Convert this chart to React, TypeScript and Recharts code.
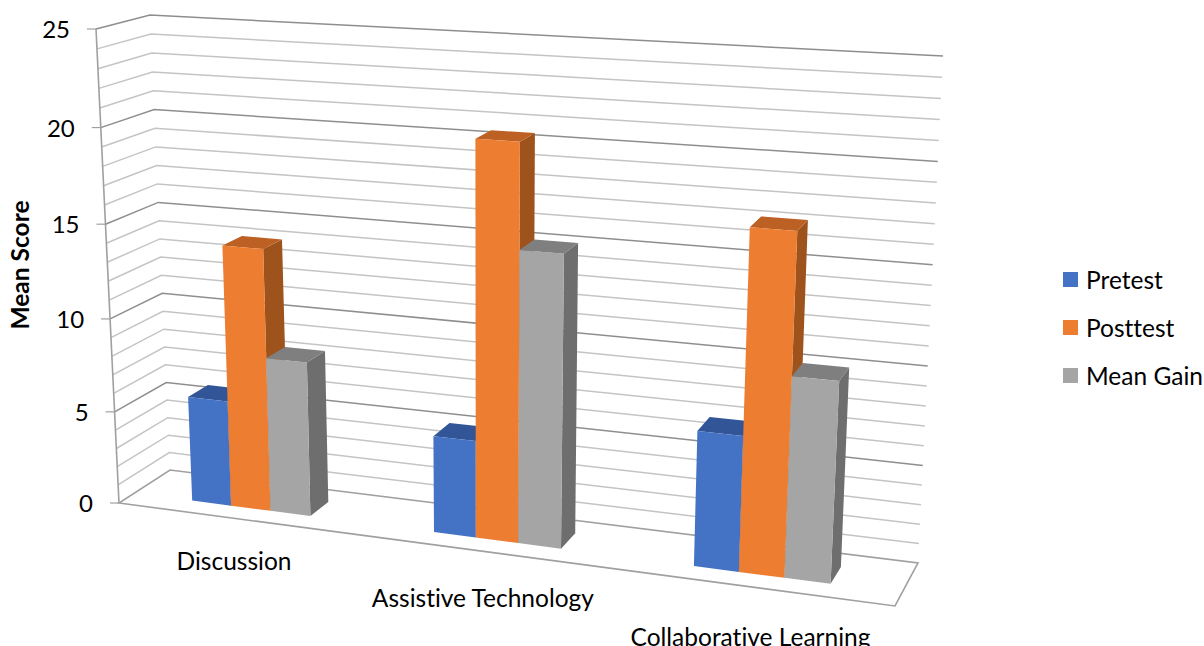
import { BarChart, Bar, XAxis, YAxis, CartesianGrid, Legend } from 'recharts';

const categories = ['Discussion', 'Assistive Technology', 'Collaborative Learning'];
const pretest = [5.7, 5.1, 6.9];
const posttest = [14.0, 20.45, 17.15];
const meanGain = [8.25, 15.1, 10.1];

const yTicks = [0, 5, 10, 15, 20, 25];
const gridLevels = [0, 1, 2, 3, 4, 5, 6, 7, 8, 9, 10, 11, 12, 13, 14, 15, 16, 17, 18, 19, 20, 21, 22, 23, 24, 25];
const yMax = 25;

const data = categories.map((name, i) => ({
  name,
  pretest: pretest[i],
  posttest: posttest[i],
  meanGain: meanGain[i],
}));

const FONT = 'Lato, "Open Sans", sans-serif';

// flat plot rectangle the chart lays out before the 3D projection
const WIDTH = 1204;
const HEIGHT = 646;
const LEGEND_W = 141;
const X_AXIS_H = 30;
const margin = { top: 40, right: 59, bottom: 30, left: 40 };
const PLOT_L = 100;
const PLOT_R = WIDTH - margin.right - LEGEND_W;
const PLOT_T = margin.top;
const PLOT_B = HEIGHT - margin.bottom - X_AXIS_H;

// corners of the box: front/back, left/right, bottom/top
const box = {
  flb: [119, 503],
  flt: [96, 29],
  frb: [895, 606],
  frt: [922, 78],
  blb: [170, 470],
  blt: [150, 15],
  brb: [918, 563],
  brt: [943, 56],
};
const WARP_U = 0.115;
const WARP_V = 0.05;
const BAR_FRONT = 0.3;
const BAR_BACK = 0.7;

const mix = (a: number[], b: number[], t: number) => [a[0] + (b[0] - a[0]) * t, a[1] + (b[1] - a[1]) * t];

function project(u: number, v: number, w: number) {
  const pu = u / (1 + WARP_U * (1 - u));
  const pv = v / (1 + WARP_V * (1 - v));
  const front = mix(mix(box.flb, box.frb, pu), mix(box.flt, box.frt, pu), pv);
  const back = mix(mix(box.blb, box.brb, pu), mix(box.blt, box.brt, pu), pv);
  return mix(front, back, w);
}

const toU = (x: number) => (x - PLOT_L) / (PLOT_R - PLOT_L);
const toV = (y: number) => (PLOT_B - y) / (PLOT_B - PLOT_T);
const pts = (list: number[][]) => list.map((p) => `${p[0].toFixed(1)},${p[1].toFixed(1)}`).join(' ');

// side and top shades per series fill
const shades: Record<string, { side: string; top: string }> = {
  '#4472C4': { side: '#2F5597', top: '#325598' },
  '#ED7D31': { side: '#9E531D', top: '#BC6023' },
  '#A5A5A5': { side: '#6E6E6E', top: '#7F7F7F' },
};

function Bar3D(props: any) {
  const { x, y, width, height, fill } = props;
  const u0 = toU(x);
  const u1 = toU(x + width);
  const v1 = toV(y);
  const v0 = toV(y + height);
  const f0 = project(u0, v0, BAR_FRONT);
  const f1 = project(u1, v0, BAR_FRONT);
  const f2 = project(u1, v1, BAR_FRONT);
  const f3 = project(u0, v1, BAR_FRONT);
  const b1 = project(u1, v0, BAR_BACK);
  const b2 = project(u1, v1, BAR_BACK);
  const b3 = project(u0, v1, BAR_BACK);
  return (
    <g>
      <polygon points={pts([f1, b1, b2, f2])} fill={shades[fill].side} />
      <polygon points={pts([f3, f2, b2, b3])} fill={shades[fill].top} />
      <polygon points={pts([f0, f1, f2, f3])} fill={fill} />
    </g>
  );
}

// one level of the wall grid: along the side wall, then the back wall
function GridLevel(props: any) {
  const v = toV(props.y1);
  const level = Math.round(v * yMax);
  const key = props.key ?? `level-${level}`;
  const major = level % 5 === 0;
  const stroke = major ? '#8E8E8E' : '#C4C4C4';
  if (level === 0) {
    return (
      <polygon
        key={key}
        points={pts([project(0, 0, 0), project(1, 0, 0), project(1, 0, 1), project(0, 0, 1)])}
        fill="none"
        stroke="#A0A0A0"
        strokeWidth={1.6}
      />
    );
  }
  return (
    <g key={key}>
      <polyline
        points={pts([project(0, v, 0), project(0, v, 1), project(1, v, 1)])}
        fill="none"
        stroke={stroke}
        strokeWidth={1.5}
      />
      {level === yMax && (
        <polyline points={pts([project(0, 0, 0), project(0, 1, 0)])} fill="none" stroke="#A0A0A0" strokeWidth={1.6} />
      )}
    </g>
  );
}

function ValueTick(props: any) {
  const p = project(0, toV(props.y), 0);
  return (
    <g>
      <line x1={p[0] - 9} y1={p[1]} x2={p[0]} y2={p[1]} stroke="#A0A0A0" strokeWidth={1.2} />
      <text x={p[0] - 26} y={p[1] + 9} textAnchor="end" fontFamily={FONT} fontSize={24} fill="#000">
        {props.payload.value}
      </text>
    </g>
  );
}

function CategoryTick(props: any) {
  const u = toU(props.x);
  const p = project(u, 0, 0);
  return (
    <text
      x={p[0] - 3}
      y={p[1] + 49 + 12 * u}
      textAnchor="middle"
      fontFamily={FONT}
      fontSize={24.5}
      fill="#000"
      style={{ fontVariantLigatures: 'none' }}
    >
      {props.payload.value}
    </text>
  );
}

function LegendList(props: any) {
  return (
    <div style={{ fontFamily: FONT, fontSize: 24.5, color: '#000', fontVariantLigatures: 'none' }}>
      {(props.payload ?? []).map((item: any) => (
        <div key={item.value} style={{ display: 'flex', alignItems: 'center', height: 47.8, whiteSpace: 'nowrap' }}>
          <span style={{ width: 15, height: 15, background: item.color, marginRight: 8 }} />
          {item.value}
        </div>
      ))}
    </div>
  );
}

export default function App() {
  return (
    <div style={{ position: 'absolute', left: 0, top: 0, width: WIDTH, height: HEIGHT, overflow: 'hidden', background: '#fff' }}>
      <BarChart
        width={WIDTH}
        height={HEIGHT}
        data={data}
        margin={margin}
        barCategoryGap="25%"
        barGap={0}
      >
        <CartesianGrid vertical={false} horizontal={GridLevel} horizontalValues={gridLevels} />
        <XAxis
          dataKey="name"
          height={X_AXIS_H}
          axisLine={false}
          tickLine={false}
          interval={0}
          tick={CategoryTick}
        />
        <YAxis
          width={60}
          domain={[0, yMax]}
          ticks={yTicks}
          interval={0}
          axisLine={false}
          tickLine={false}
          tick={ValueTick}
          label={{
            content: () => (
              <text
                transform="translate(29,265) rotate(-90)"
                textAnchor="middle"
                fontFamily={FONT}
                fontSize={24.5}
                fontWeight={700}
                fill="#000"
              >
                Mean Score
              </text>
            ),
          }}
        />
        <Legend
          layout="vertical"
          align="right"
          verticalAlign="middle"
          itemSorter={null}
          content={LegendList}
          wrapperStyle={{ position: 'absolute', left: 1063, top: 256, width: LEGEND_W, right: 'auto', bottom: 'auto' }}
        />
        <Bar dataKey="pretest" name="Pretest" fill="#4472C4" shape={Bar3D} isAnimationActive={false} />
        <Bar dataKey="posttest" name="Posttest" fill="#ED7D31" shape={Bar3D} isAnimationActive={false} />
        <Bar dataKey="meanGain" name="Mean Gain" fill="#A5A5A5" shape={Bar3D} isAnimationActive={false} />
      </BarChart>
    </div>
  );
}
